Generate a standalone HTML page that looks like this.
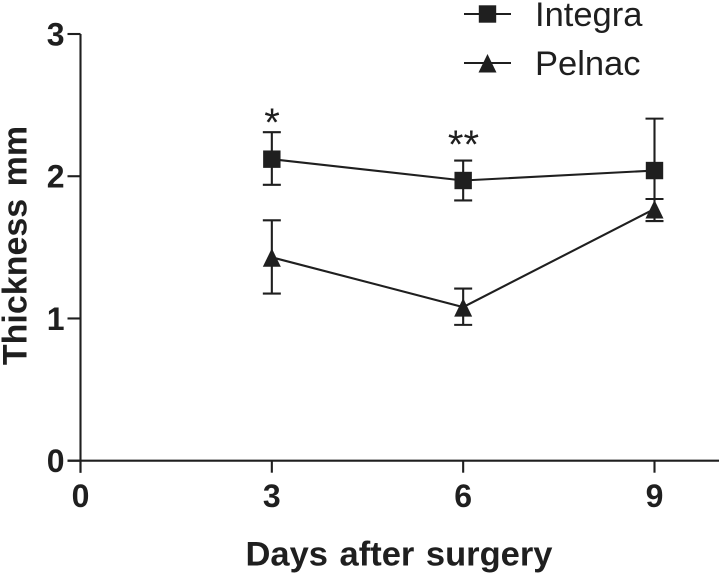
<!DOCTYPE html>
<html>
<head>
<meta charset="utf-8">
<title>Thickness chart</title>
<style>
html,body{margin:0;padding:0;background:#fff;width:720px;height:574px;overflow:hidden}
svg{display:block}
text{font-family:"Liberation Sans",Arial,sans-serif;fill:#1f1f1f}
.b{font-weight:700}
</style>
</head>
<body>
<svg id="chart" xmlns="http://www.w3.org/2000/svg" width="720" height="574" viewBox="0 0 720 574">
  <g id="axes"></g>
  <g id="series"></g>
  <g id="legend"></g>
  <text class="b" x="399" y="565.5" font-size="34.5" text-anchor="middle" word-spacing="2">Days after surgery</text>
  <text class="b" transform="translate(26.5 245.5) rotate(-90)" font-size="34" text-anchor="middle" word-spacing="3">Thickness mm</text>
  <text x="272" y="136" font-size="40" text-anchor="middle">*</text>
  <text x="463.5" y="158" font-size="40" text-anchor="middle">**</text>
</svg>
<script>
const xTicks = [0, 3, 6, 9];
const yTicks = [0, 1, 2, 3];
const days = [3, 6, 9];
const integraMean = [2.12, 1.97, 2.04];
const integraHigh = [2.31, 2.11, 2.405];
const integraLow = [1.94, 1.83, 1.84];
const pelnacMean = [1.43, 1.08, 1.77];
const pelnacHigh = [1.69, 1.21, 1.84];
const pelnacLow = [1.175, 0.955, 1.685];
const seriesNames = ['Integra', 'Pelnac'];

const SVGNS = 'http://www.w3.org/2000/svg';
const INK = '#1f1f1f';
const xScale = v => 80.5 + v * (654.5 - 80.5) / 9;
const yScale = v => 460.7 - v * (460.7 - 34) / 3;

function make(tag, attrs, parent) {
  const el = document.createElementNS(SVGNS, tag);
  for (const k in attrs) el.setAttribute(k, attrs[k]);
  parent.appendChild(el);
  return el;
}
function line(x1, y1, x2, y2, parent, sw) {
  return make('line', {x1, y1, x2, y2, stroke: INK, 'stroke-width': sw || 2.1}, parent);
}
function square(cx, cy, parent) {
  return make('rect', {x: cx - 8.7, y: cy - 8.7, width: 17.4, height: 17.4, fill: INK}, parent);
}
function triangle(cx, cy, parent) {
  return make('polygon', {points: `${cx},${cy - 9} ${cx + 9},${cy + 9.5} ${cx - 9},${cy + 9.5}`, fill: INK}, parent);
}

const axes = document.getElementById('axes');
const yAxis = line(xScale(0), yScale(3), xScale(0), yScale(0) + 12, axes);


const xAxis = line(xScale(0) - 13, yScale(0), 719, yScale(0), axes);



yTicks.forEach(t => {
  const tick = line(xScale(0) - 13, yScale(t), xScale(0), yScale(t), axes);
  
  
  const label = make('text', {x: 64.5, y: yScale(t) + 11.5, 'font-size': 32, 'text-anchor': 'end', class: 'b'}, axes);
  label.textContent = t;
  
  
});
xTicks.forEach(t => {
  const tick = line(xScale(t), yScale(0), xScale(t), yScale(0) + 12, axes);
  
  
  const label = make('text', {x: xScale(t), y: 507, 'font-size': 32, 'text-anchor': 'middle', class: 'b'}, axes);
  label.textContent = t;
  
  
});

const seriesRoot = document.getElementById('series');
function drawSeries(name, means, highs, lows, marker) {
  const g = make('g', {}, seriesRoot);
  
  
  const pts = days.map((d, i) => xScale(d) + ',' + yScale(means[i])).join(' ');
  const path = make('polyline', {points: pts, fill: 'none', stroke: INK, 'stroke-width': 2.1}, g);
  
  
  days.forEach((d, i) => {
    const x = xScale(d);
    const stem = line(x, yScale(highs[i]), x, yScale(lows[i]), g);
    
    
    const capTop = line(x - 9, yScale(highs[i]), x + 9, yScale(highs[i]), g);
    
    
    const capLow = line(x - 9, yScale(lows[i]), x + 9, yScale(lows[i]), g);
    
    
    const m = marker(x, yScale(means[i]), g);
    
    
  });
}
drawSeries('integra', integraMean, integraHigh, integraLow, square);
drawSeries('pelnac', pelnacMean, pelnacHigh, pelnacLow, triangle);

const legend = document.getElementById('legend');
seriesNames.forEach((n, i) => {
  const y = 14 + i * 49;
  const g = make('g', {}, legend);
  
  
  const l = line(464, y, 511, y, g);
  
  
  const m = (i === 0 ? square : triangle)(487.5, y, g);
  
  
  const t = make('text', {x: 535, y: y + 12, 'font-size': 34.5}, g);
  t.textContent = n;
  
  
});
</script>
</body>
</html>
